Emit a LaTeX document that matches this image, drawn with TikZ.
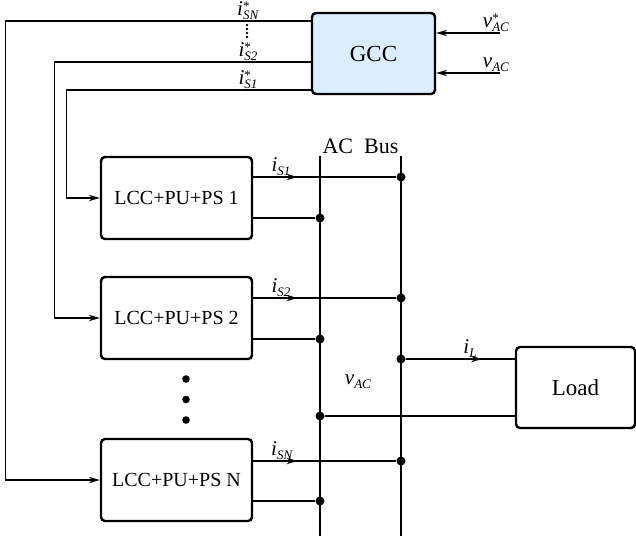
\documentclass[tikz,border=0pt]{standalone}
\usepackage{fontspec}
\setmainfont{Liberation Serif}
\usetikzlibrary{arrows.meta,decorations.markings}
\definecolor{gccblue}{RGB}{219,238,255}
\newcommand{\sig}[3]{\textit{#1}\makebox[0pt][l]{\raisebox{0.5ex}{\fontsize{6.5}{7}\selectfont #2}}\raisebox{-0.45ex}{\fontsize{6.5}{7}\selectfont\textit{#3}}}

\begin{document}
\begin{tikzpicture}[x=0.5pt,y=-0.5pt,
    block/.style={draw,line width=1.2pt,rounded corners=2pt,minimum width=75.5pt,minimum height=41pt,font=\fontsize{10}{12}\selectfont},
    junc/.style={circle,fill,inner sep=0pt,minimum size=4.5pt},
    sig/.style={line width=0.6pt},
    flow/.style={sig,postaction={decorate},decoration={markings,mark=at position #1 with {\arrow{Stealth[length=5.5pt,width=3.2pt]}}}},
    lbl/.style={inner sep=0.5pt,anchor=south,font=\fontsize{10.5}{12}\selectfont},
    >={Stealth[length=5.5pt,width=3.2pt]}]
    \useasboundingbox (0,0) rectangle (636,538);

    % GCC
    \node[block,fill=gccblue,minimum width=61.5pt,minimum height=40.5pt,font=\fontsize{11.5}{13}\selectfont] (gcc) at (373.5,53.5) {GCC};
    \coordinate (vref) at (500,33);
    \coordinate (vmeas) at (500,73);
    \draw[sig,->] (vref) -- (vref -| gcc.east);
    \draw[sig,->] (vmeas) -- (vmeas -| gcc.east);
    \node[lbl] (lvref) at (496,33) {\sig{v}{*}{AC}};
    \node[lbl] (lvmeas) at (496,73) {\sig{v}{}{AC}};

    % Umrichter
    \node[block] (lcc1) at (176.5,198) {LCC+PU+PS 1};
    \node[block] (lcc2) at (176.5,318) {LCC+PU+PS 2};
    \node[block] (lccN) at (176.5,480) {LCC+PU+PS N};
    \foreach \y in {379,399.5,420} \fill (186,\y) circle (1.9pt);

    % Sollwerte
    \draw[sig,->] ([yshift=16.25pt]gcc.west) -| ([xshift=-47pt]lccN.west) -- (lccN.west);
    \draw[sig,->] ([yshift=-4.25pt]gcc.west) -| ([xshift=-22.5pt]lcc2.west) -- (lcc2.west);
    \draw[sig,->] ([yshift=-18.25pt]gcc.west) -| ([xshift=-16.5pt]lcc1.west) -- (lcc1.west);
    \node[lbl] (lrefN) at (248,21) {\sig{i}{*}{SN}};
    \node[lbl] (lref2) at (248,62) {\sig{i}{*}{S2}};
    \node[lbl] (lref1) at (248,90) {\sig{i}{*}{S1}};
    \foreach \y in {25,29,33,37} \fill (247,\y) circle (0.7pt);

    % AC Bus
    \coordinate (ltop) at (320,156);
    \coordinate (lbot) at (320,536);
    \coordinate (rtop) at (401,156);
    \coordinate (rbot) at (401,536);
    \draw[line width=1.2pt] (ltop) -- (lbot);
    \draw[line width=1.2pt] (rtop) -- (rbot);
    \node[anchor=south,inner sep=1pt,font=\fontsize{11}{12}\selectfont] (bus) at (360.5,156) {AC\ \ Bus};

    \node[junc] (jr1) at (401,177) {};
    \node[junc] (jl1) at (320,218) {};
    \node[junc] (jr2) at (401,298) {};
    \node[junc] (jl2) at (320,339) {};
    \node[junc] (jrN) at (401,461) {};
    \node[junc] (jlN) at (320,501) {};
    \draw[flow=0.31] (lcc1.east |- jr1) -- (jr1);
    \draw[sig] (lcc1.east |- jl1) -- (jl1);
    \draw[flow=0.31] (lcc2.east |- jr2) -- (jr2);
    \draw[sig] (lcc2.east |- jl2) -- (jl2);
    \draw[flow=0.31] (lccN.east |- jrN) -- (jrN);
    \draw[sig] (lccN.east |- jlN) -- (jlN);
    \node[lbl] (li1) at (281,177) {\sig{i}{}{S1}};
    \node[lbl] (li2) at (281,298) {\sig{i}{}{S2}};
    \node[lbl] (liN) at (282,461) {\sig{i}{}{SN}};

    % Last
    \node[block,minimum width=59.5pt,minimum height=40.5pt,font=\fontsize{11.5}{13}\selectfont] (load) at (575.5,387.5) {Load};
    \node[junc] (jrL) at (401,359) {};
    \node[junc] (jlL) at (320,416) {};
    \draw[flow=0.7] (jrL) -- (jrL -| load.west);
    \draw[sig] (jlL) -- (jlL -| load.west);
    \node[lbl] (liL) at (470,359) {\sig{i}{}{L}};
    \node[font=\fontsize{10.5}{12}\selectfont] (lvac) at (358,382) {\sig{v}{}{AC}};
\end{tikzpicture}
\end{document}
